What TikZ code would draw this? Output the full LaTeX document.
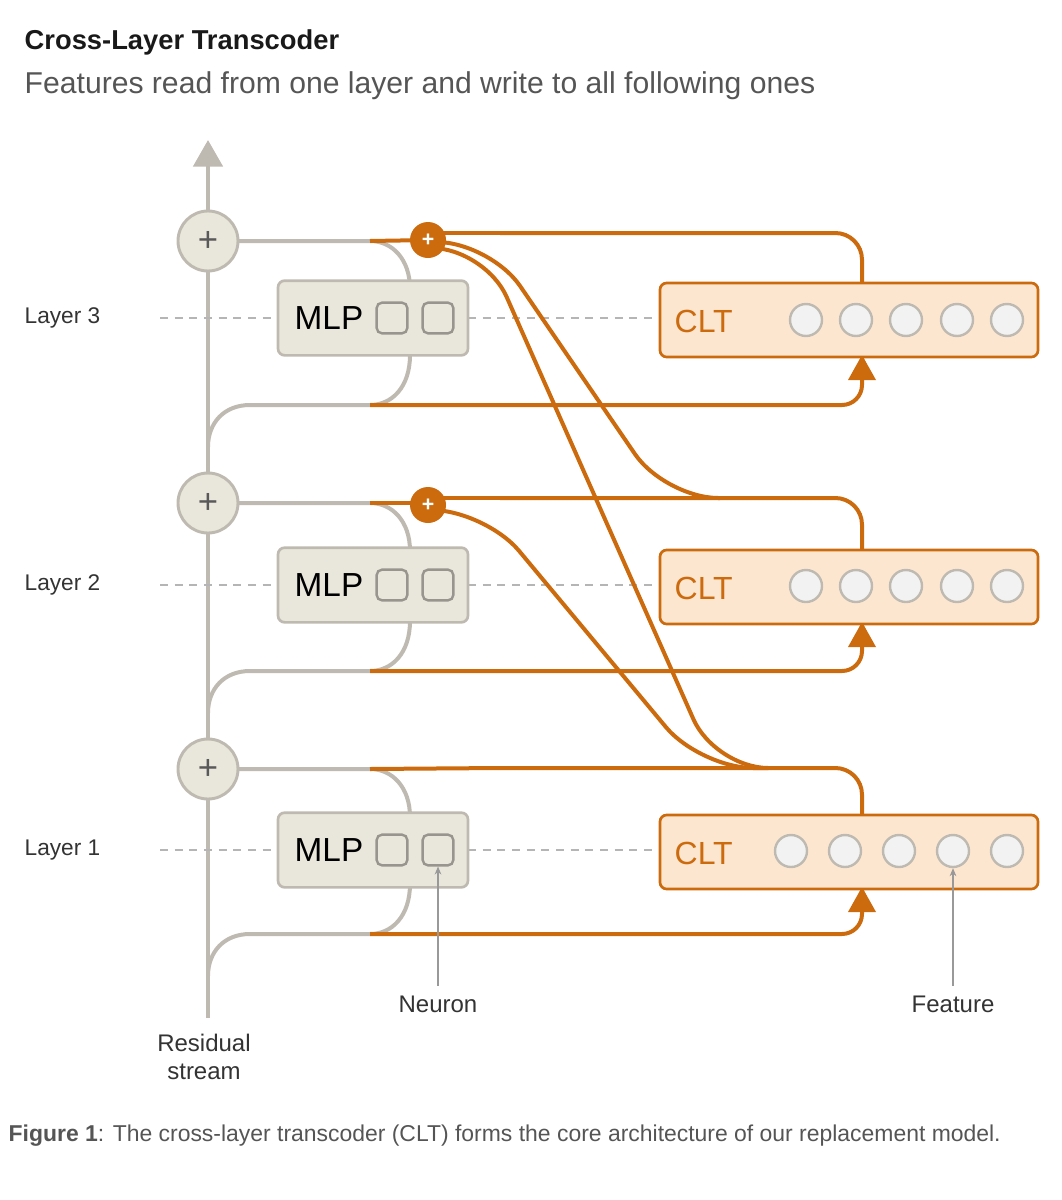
\documentclass[tikz,border=0pt]{standalone}
\usepackage{fontspec}
\setmainfont{Liberation Sans}
\usetikzlibrary{arrows.meta}
\definecolor{org}{HTML}{CC6A0E}
\definecolor{cltfill}{HTML}{FDE6D0}
\definecolor{mlpfill}{HTML}{E9E6DB}
\definecolor{gline}{HTML}{BEBAB1}
\definecolor{dark}{HTML}{333333}
\definecolor{sub}{HTML}{555555}
\definecolor{dash}{HTML}{B5B5B5}
\tikzset{
 res/.style={draw=gline,line width=3pt},
 ol/.style={draw=org,line width=3pt},
 mlp/.style={draw=gline,fill=mlpfill,line width=2pt,rounded corners=5pt,minimum width=142.5pt,minimum height=56pt},
 clt/.style={draw=org,fill=cltfill,line width=2pt,rounded corners=5pt,minimum width=283.5pt,minimum height=55.5pt},
 neu/.style={draw=gline!80!black,fill=mlpfill,line width=1.8pt,rounded corners=4pt,minimum size=23pt,inner sep=0},
 feat/.style={circle,draw=gline,fill=black!5,line width=1.8pt,minimum size=24pt,inner sep=0},
 plus/.style={circle,draw=gline,fill=mlpfill,line width=2.2pt,minimum size=45pt,inner sep=0,font=\fontsize{26}{26}\selectfont,text=black!65},
 oplus/.style={circle,fill=org,minimum size=27pt,inner sep=0,text=white,font=\bfseries\fontsize{16}{16}\selectfont},
 dsh/.style={draw=dash,line width=1.3pt,dash pattern=on 6pt off 5pt},
 lab/.style={font=\fontsize{17}{17}\selectfont,text=dark},
}
\begin{document}
\begin{tikzpicture}[x=0.75pt,y=-0.75pt]
\useasboundingbox (0,0) rectangle (1062,1200);
\node[anchor=west,font=\bfseries\fontsize{20.5}{20}\selectfont,text=black!90] (title) at (20,42) {Cross-Layer Transcoder};
\node[anchor=west,font=\fontsize{22.6}{22}\selectfont,text=sub] (subt) at (20,86) {Features read from one layer and write to all following ones};
% residual stream
\coordinate (rb) at (208,1018);
\coordinate (rt) at (208,140);
\draw[res,-{Triangle[width=22pt,length=20pt]},draw=gline,fill=gline] (rb) -- (rt);
\node[lab,align=center,font=\fontsize{18}{21}\selectfont] (rs) at (204,1057) {Residual\\stream};
% layers
\foreach \n/\py/\my/\by/\ty in {3/241/318/405/233, 2/503/585/671/498, 1/769/850/934/768}{
  \node[lab,anchor=west] (L\n) at (20,\my) {Layer \n};
  \coordinate (da\n) at (160,\my);
  \coordinate (db\n) at (278,\my);
  \coordinate (dc\n) at (468,\my);
  \coordinate (dd\n) at (660,\my);
  \draw[dsh] (da\n) -- (db\n);
  \draw[dsh] (dc\n) -- (dd\n);
  % gray branches
  \coordinate (gt\n) at (370,\py);
  \coordinate (gb\n) at (370,\by);
  \draw[res] (226,\py) -- (gt\n) .. controls (392,\py) and (410,\py+18) .. (410,\py+48);
  \draw[res] (208,\by+42) .. controls (208,\by+18) and (224,\by) .. (250,\by) -- (gb\n) .. controls (392,\by) and (410,\by-18) .. (410,\by-50);
  % orange write into CLT
  \coordinate (ab\n) at (862,\by);
  \draw[ol,rounded corners=15pt] (gb\n) -- (ab\n) -- (862,\my+39);
  \fill[org] (862,\my+37) -- (848,\my+62) -- (876,\my+62) -- cycle;
  \node[mlp] (M\n) at (373,\my) {};
  \node[font=\fontsize{25}{25}\selectfont,anchor=west] (Mt\n) at (290,\my) {MLP};
  \node[neu] (N\n a) at (392,\my) {};
  \node[neu] (N\n b) at (438,\my) {};
  \coordinate (ct\n) at (862,\ty);
  \draw[ol,rounded corners=20pt] (862,\my-30) -- (ct\n) -- (500,\ty);
  \node[clt] (C\n) at (849,\my+2) {};
  \node[font=\fontsize{24}{24}\selectfont,text=org,anchor=west] (Ct\n) at (670,\my+3) {CLT};
  \node[plus] (P\n) at (208,\py) {+};
}
\foreach \i/\x in {1/806,2/856,3/906,4/957,5/1007}{
  \node[feat] (F3\i) at (\x,320) {};
  \node[feat] (F2\i) at (\x,586) {};
}
\foreach \i/\x in {1/791,2/845,3/899,4/953,5/1007}{
  \node[feat] (F1\i) at (\x,851) {};
}
% orange cross-layer paths
\draw[ol] (gt3) -- (430,240);
\draw[ol] (gt2) -- (430,503);
\draw[ol] (gt1) -- (500,768);
\draw[ol] (428,233) -- (520,233);
\draw[ol,rounded corners=40pt] (440,242) -- (490,242) -- (665,498) -- (720,498);
\draw[ol,rounded corners=40pt] (440,248) -- (485,248) -- (715,768) -- (760,768);
\draw[ol] (428,498) -- (520,498);
\draw[ol,rounded corners=40pt] (440,510) -- (485,510) -- (700,768) -- (760,768);
\node[oplus] (O3) at (428,240) {+};
\node[oplus] (O2) at (428,505) {+};
% annotations
\node[lab,font=\fontsize{18}{18}\selectfont] (neuron) at (438,1004) {Neuron};
\node[lab,font=\fontsize{18}{18}\selectfont] (feature) at (953,1004) {Feature};
\draw[draw=black!40,line width=0.8pt,-{Stealth[length=6pt,width=5pt]}] (neuron.north) ++(0,-5) -- (N1b.south);
\draw[draw=black!40,line width=0.8pt,-{Stealth[length=6pt,width=5pt]}] (feature.north) ++(0,-5) -- (F14.south);
\node[anchor=west,font=\fontsize{17.2}{17}\selectfont,text=sub] (cap) at (4,1136) {\textbf{Figure 1}: The cross-layer transcoder (CLT) forms the core architecture of our replacement model.};
\end{tikzpicture}
\end{document}
